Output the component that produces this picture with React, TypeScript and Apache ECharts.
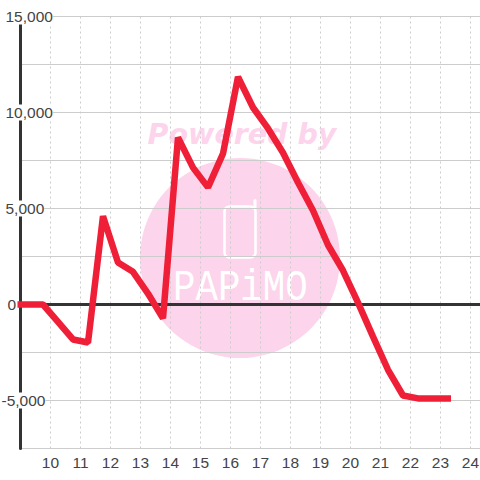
import React, { useEffect, useRef } from "react";
import * as echarts from "echarts";

const times = [8.9, 9.75, 10.25, 10.75, 11.25, 11.75, 12.25, 12.75, 13.25, 13.75, 14.25, 14.75, 15.25, 15.75, 16.25, 16.75, 17.25, 17.75, 18.25, 18.75, 19.25, 19.75, 20.25, 20.75, 21.25, 21.75, 22.25, 22.75, 23.35];
const values = [0, 0, -900, -1820, -1980, 4600, 2190, 1700, 570, -720, 8700, 7130, 6100, 7860, 11850, 10260, 9170, 7900, 6350, 4900, 3100, 1770, 100, -1670, -3400, -4740, -4890, -4900, -4900];
const zeroLineX = [9, 24.3167];
const labelledY = [15000, 10000, 5000, 0, -5000];
const watermarkTitle = "Powered by";
const watermarkBrand = "PAPiMO";

const pink = "#fcd5ec";

export default function App() {
  const ref = useRef<HTMLDivElement>(null);
  useEffect(() => {
    document.body.style.margin = "0";
    const chart = echarts.init(ref.current!, null, { renderer: "svg" });
    chart.setOption({
      animation: false,
      textStyle: { fontFamily: "Liberation Sans" },
      grid: { left: 20.5, top: 16.5, right: 0, bottom: 31.5, containLabel: false, outerBoundsMode: "none" },
      graphic: {
        elements: [
          { type: "circle", z: -10, shape: { cx: 240, cy: 258, r: 100 }, style: { fill: pink } },
          {
            type: "text", z: -10, x: 242, y: 134,
            style: { text: watermarkTitle, fill: pink, font: "italic bold 28.5px 'DejaVu Sans'", textAlign: "center", textVerticalAlign: "middle" },
          },
          { type: "rect", z: -9, shape: { x: 224.5, y: 206.5, width: 31, height: 51, r: 5 }, style: { fill: "none", stroke: "#fff", lineWidth: 2.5 } },
          { type: "line", z: -9, shape: { x1: 255, y1: 209, x2: 255, y2: 200.5 }, style: { stroke: "#fff", lineWidth: 3, lineCap: "round" } },
          {
            type: "text", z: -9, x: 173, y: 311, scaleX: 1.04, scaleY: 1.25,
            style: { text: watermarkBrand, fill: "#fff", font: "36px 'Liberation Mono'", textAlign: "left", textVerticalAlign: "bottom" },
          },
        ],
      },
      xAxis: {
        type: "value", min: 9, max: 24.3167, interval: 1,
        axisLine: { show: false }, axisTick: { show: false },
        splitLine: { show: true, showMaxLine: false, lineStyle: { color: "#ccc", type: [2, 3], width: 1 } },
        axisLabel: {
          color: "#444", fontSize: 15.5, margin: 6, showMinLabel: false, showMaxLabel: false,
        },
      },
      yAxis: {
        type: "value", min: -7500, max: 15000, interval: 2500,
        axisLine: { show: true, onZero: false, lineStyle: { color: "#333", width: 3 } },
        axisTick: { show: false },
        splitLine: { show: true, lineStyle: { color: "#ccc", width: 1 } },
        axisLabel: {
          align: "left", margin: 19, color: "#444", fontSize: 15.5,
          formatter: (v: number) => {
            if (!labelledY.includes(v)) return "";
            const t = v.toLocaleString("en-US");
            return v === 0 ? `{z|${t}}` : v < 0 ? `{n|${t}}` : `{p|${t}}`;
          },
          rich: {
            p: { backgroundColor: "#fff", padding: [0, 0, 0, 4], lineHeight: 16, fontSize: 15.5, color: "#444" },
            n: { backgroundColor: "#fff", lineHeight: 16, fontSize: 15.5, color: "#444" },
            z: { padding: [0, 0, 0, 6], lineHeight: 16, fontSize: 15.5, color: "#444" },
          },
        },
      },
      series: [
        {
          type: "line", silent: true, showSymbol: false,
          data: zeroLineX.map((x) => [x, 0]),
          lineStyle: { color: "#333", width: 3 },
        },
        {
          type: "line", silent: true, showSymbol: false, clip: false,
          data: times.map((t, i) => [t, values[i]]),
          lineStyle: { color: "#ef1f38", width: 6.5, join: "bevel" },
        },
      ],
    });
    return () => chart.dispose();
  }, []);
  return <div ref={ref} style={{ width: 480, height: 480 }} />;
}
